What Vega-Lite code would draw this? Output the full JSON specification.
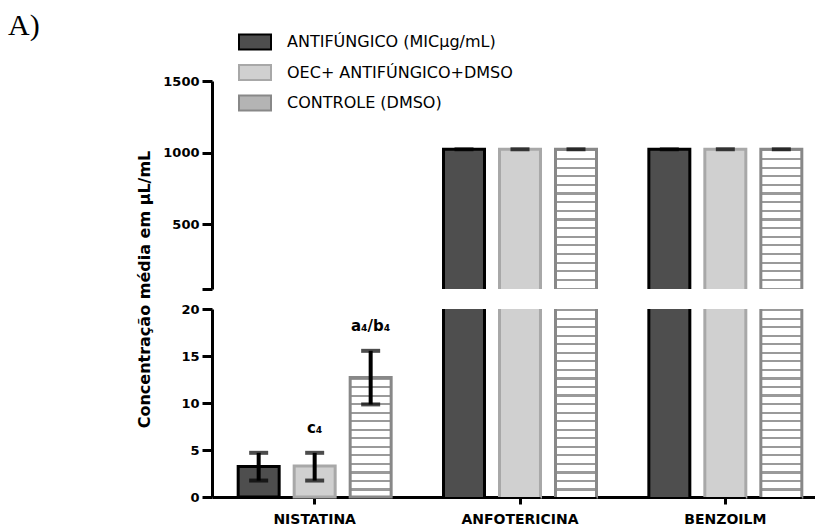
{
  "$schema": "https://vega.github.io/schema/vega-lite/v6.json",
  "padding": {"left": 8, "top": 11, "right": -13, "bottom": 0},
  "bounds": "flush",
  "spacing": 20,
  "title": {"text": "A)", "anchor": "start", "font": "Liberation Serif", "fontSize": 30, "fontWeight": "normal", "color": "#000000", "dx": -128, "dy": 20},
  "datasets": {
    "bars": [
      {"drug": "NISTATINA", "group": "ANTIFÚNGICO (MICµg/mL)", "mean": 3.25, "lo": 1.75, "hi": 4.7, "label": ""},
      {"drug": "NISTATINA", "group": "OEC+ ANTIFÚNGICO+DMSO", "mean": 3.3, "lo": 1.75, "hi": 4.7, "label": "c₄"},
      {"drug": "NISTATINA", "group": "CONTROLE (DMSO)", "mean": 12.7, "lo": 9.85, "hi": 15.55, "label": "a₄/b₄"},
      {"drug": "ANFOTERICINA", "group": "ANTIFÚNGICO (MICµg/mL)", "mean": 1024, "lo": 1024, "hi": 1024, "label": ""},
      {"drug": "ANFOTERICINA", "group": "OEC+ ANTIFÚNGICO+DMSO", "mean": 1024, "lo": 1024, "hi": 1024, "label": ""},
      {"drug": "ANFOTERICINA", "group": "CONTROLE (DMSO)", "mean": 1024, "lo": 1024, "hi": 1024, "label": ""},
      {"drug": "BENZOILM", "group": "ANTIFÚNGICO (MICµg/mL)", "mean": 1024, "lo": 1024, "hi": 1024, "label": ""},
      {"drug": "BENZOILM", "group": "OEC+ ANTIFÚNGICO+DMSO", "mean": 1024, "lo": 1024, "hi": 1024, "label": ""},
      {"drug": "BENZOILM", "group": "CONTROLE (DMSO)", "mean": 1024, "lo": 1024, "hi": 1024, "label": ""}
    ]
  },
  "vconcat": [
    {
      "width": 616,
      "height": 208,
      "data": {"name": "bars"},
      "encoding": {
        "x": {"field": "drug", "type": "nominal", "sort": ["NISTATINA", "ANFOTERICINA", "BENZOILM"], "scale": {"domain": ["NISTATINA", "ANFOTERICINA", "BENZOILM"], "paddingInner": 0, "paddingOuter": 0}, "axis": null},
        "xOffset": {"field": "group", "type": "nominal", "scale": {"domain": ["ANTIFÚNGICO (MICµg/mL)", "OEC+ ANTIFÚNGICO+DMSO", "CONTROLE (DMSO)"], "paddingInner": 0.268, "paddingOuter": 0.4675}}
      },
      "layer": [
        {
          "transform": [{"filter": "datum.mean > 50 && datum.group != 'CONTROLE (DMSO)'"}],
          "mark": {"type": "bar", "clip": true, "strokeWidth": 3},
          "encoding": {
            "y": {"field": "mean", "type": "quantitative", "scale": {"domain": [50, 1500], "nice": false, "zero": false}, "axis": {"values": [50, 500, 1000, 1500], "format": "d", "labelExpr": "datum.value == 50 ? '' : datum.label", "title": null, "tickSize": 10, "labelPadding": 3}},
            "y2": {"datum": 0},
            "fill": {"field": "group", "type": "nominal", "scale": {"domain": ["ANTIFÚNGICO (MICµg/mL)", "OEC+ ANTIFÚNGICO+DMSO", "CONTROLE (DMSO)"], "range": ["#4e4e4e", "#d0d0d0", "#b4b4b4"]}, "legend": {"title": null, "orient": "none", "legendX": 26, "legendY": -56, "symbolType": "M-1,-0.47H1V0.47H-1Z", "symbolSize": 1024, "symbolStrokeWidth": 2, "labelFont": "DejaVu Sans", "labelFontSize": 16, "labelColor": "#000000", "labelOffset": 15, "labelLimit": 0, "rowPadding": 1.5}},
            "stroke": {"field": "group", "type": "nominal", "scale": {"domain": ["ANTIFÚNGICO (MICµg/mL)", "OEC+ ANTIFÚNGICO+DMSO", "CONTROLE (DMSO)"], "range": ["#000000", "#a8a8a8", "#888888"]}, "legend": {"title": null, "orient": "none", "legendX": 26, "legendY": -56, "symbolType": "M-1,-0.47H1V0.47H-1Z", "symbolSize": 1024, "symbolStrokeWidth": 2, "labelFont": "DejaVu Sans", "labelFontSize": 16, "labelColor": "#000000", "labelOffset": 15, "labelLimit": 0, "rowPadding": 1.5}}
          }
        },
        {
          "transform": [{"filter": "datum.mean > 50 && datum.group == 'CONTROLE (DMSO)'"}],
          "mark": {"type": "bar", "clip": true, "strokeWidth": 3, "stroke": "#888888",
            "fill": {"gradient": "linear", "x1": 0, "y1": 0, "x2": 0, "y2": 1, "stops": [
              {"offset": 0, "color": "#9a9a9a"}, {"offset": 0.0147, "color": "#9a9a9a"}, {"offset": 0.0147, "color": "#ffffff"}, {"offset": 0.0588, "color": "#ffffff"},
              {"offset": 0.0588, "color": "#9a9a9a"}, {"offset": 0.0735, "color": "#9a9a9a"}, {"offset": 0.0735, "color": "#ffffff"}, {"offset": 0.1176, "color": "#ffffff"},
              {"offset": 0.1176, "color": "#9a9a9a"}, {"offset": 0.1324, "color": "#9a9a9a"}, {"offset": 0.1324, "color": "#ffffff"}, {"offset": 0.1765, "color": "#ffffff"},
              {"offset": 0.1765, "color": "#9a9a9a"}, {"offset": 0.1912, "color": "#9a9a9a"}, {"offset": 0.1912, "color": "#ffffff"}, {"offset": 0.2353, "color": "#ffffff"},
              {"offset": 0.2353, "color": "#9a9a9a"}, {"offset": 0.25, "color": "#9a9a9a"}, {"offset": 0.25, "color": "#ffffff"}, {"offset": 0.2941, "color": "#ffffff"},
              {"offset": 0.2941, "color": "#9a9a9a"}, {"offset": 0.3088, "color": "#9a9a9a"}, {"offset": 0.3088, "color": "#ffffff"}, {"offset": 0.3529, "color": "#ffffff"},
              {"offset": 0.3529, "color": "#9a9a9a"}, {"offset": 0.3676, "color": "#9a9a9a"}, {"offset": 0.3676, "color": "#ffffff"}, {"offset": 0.4118, "color": "#ffffff"},
              {"offset": 0.4118, "color": "#9a9a9a"}, {"offset": 0.4265, "color": "#9a9a9a"}, {"offset": 0.4265, "color": "#ffffff"}, {"offset": 0.4706, "color": "#ffffff"},
              {"offset": 0.4706, "color": "#9a9a9a"}, {"offset": 0.4853, "color": "#9a9a9a"}, {"offset": 0.4853, "color": "#ffffff"}, {"offset": 0.5294, "color": "#ffffff"},
              {"offset": 0.5294, "color": "#9a9a9a"}, {"offset": 0.5441, "color": "#9a9a9a"}, {"offset": 0.5441, "color": "#ffffff"}, {"offset": 0.5882, "color": "#ffffff"},
              {"offset": 0.5882, "color": "#9a9a9a"}, {"offset": 0.6029, "color": "#9a9a9a"}, {"offset": 0.6029, "color": "#ffffff"}, {"offset": 0.6471, "color": "#ffffff"},
              {"offset": 0.6471, "color": "#9a9a9a"}, {"offset": 0.6618, "color": "#9a9a9a"}, {"offset": 0.6618, "color": "#ffffff"}, {"offset": 0.7059, "color": "#ffffff"},
              {"offset": 0.7059, "color": "#9a9a9a"}, {"offset": 0.7206, "color": "#9a9a9a"}, {"offset": 0.7206, "color": "#ffffff"}, {"offset": 0.7647, "color": "#ffffff"},
              {"offset": 0.7647, "color": "#9a9a9a"}, {"offset": 0.7794, "color": "#9a9a9a"}, {"offset": 0.7794, "color": "#ffffff"}, {"offset": 0.8235, "color": "#ffffff"},
              {"offset": 0.8235, "color": "#9a9a9a"}, {"offset": 0.8382, "color": "#9a9a9a"}, {"offset": 0.8382, "color": "#ffffff"}, {"offset": 0.8824, "color": "#ffffff"},
              {"offset": 0.8824, "color": "#9a9a9a"}, {"offset": 0.8971, "color": "#9a9a9a"}, {"offset": 0.8971, "color": "#ffffff"}, {"offset": 0.9412, "color": "#ffffff"},
              {"offset": 0.9412, "color": "#9a9a9a"}, {"offset": 0.9559, "color": "#9a9a9a"}, {"offset": 0.9559, "color": "#ffffff"}, {"offset": 1, "color": "#ffffff"}
            ]}},
          "encoding": {
            "y": {"field": "mean", "type": "quantitative"},
            "y2": {"datum": 0}
          }
        },
        {
          "transform": [{"filter": "datum.mean > 50"}],
          "mark": {"type": "tick", "color": "#000000", "thickness": 4, "size": 19, "clip": true},
          "encoding": {"y": {"field": "hi", "type": "quantitative"}}
        }
      ]
    },
    {
      "width": 616,
      "height": 188,
      "data": {"name": "bars"},
      "encoding": {
        "x": {"field": "drug", "type": "nominal", "sort": ["NISTATINA", "ANFOTERICINA", "BENZOILM"], "scale": {"domain": ["NISTATINA", "ANFOTERICINA", "BENZOILM"], "paddingInner": 0, "paddingOuter": 0}, "axis": {"title": null, "labelAngle": 0, "tickSize": 7, "labelPadding": 8, "labelFont": "DejaVu Sans", "labelFontSize": 14}},
        "xOffset": {"field": "group", "type": "nominal", "scale": {"domain": ["ANTIFÚNGICO (MICµg/mL)", "OEC+ ANTIFÚNGICO+DMSO", "CONTROLE (DMSO)"], "paddingInner": 0.268, "paddingOuter": 0.4675}}
      },
      "layer": [
        {
          "transform": [{"filter": "datum.mean < 20 && datum.group != 'CONTROLE (DMSO)'"}],
          "mark": {"type": "bar", "strokeWidth": 3},
          "encoding": {
            "y": {"field": "mean", "type": "quantitative", "scale": {"domain": [0, 20], "nice": false, "clamp": true}, "axis": {"values": [0, 5, 10, 15, 20], "title": "Concentração média em µL/mL", "titleFont": "DejaVu Sans", "titleFontSize": 16, "titleFontWeight": "bold", "titleX": -63, "titleY": -20, "titleAngle": -90, "titleBaseline": "alphabetic", "titleAlign": "center", "tickSize": 10, "labelPadding": 3}},
            "y2": {"datum": 0},
            "fill": {"field": "group", "type": "nominal", "scale": {"domain": ["ANTIFÚNGICO (MICµg/mL)", "OEC+ ANTIFÚNGICO+DMSO", "CONTROLE (DMSO)"], "range": ["#4e4e4e", "#d0d0d0", "#b4b4b4"]}, "legend": {"title": null, "orient": "none", "legendX": 26, "legendY": -56, "symbolType": "M-1,-0.47H1V0.47H-1Z", "symbolSize": 1024, "symbolStrokeWidth": 2, "labelFont": "DejaVu Sans", "labelFontSize": 16, "labelColor": "#000000", "labelOffset": 15, "labelLimit": 0, "rowPadding": 1.5}},
            "stroke": {"field": "group", "type": "nominal", "scale": {"domain": ["ANTIFÚNGICO (MICµg/mL)", "OEC+ ANTIFÚNGICO+DMSO", "CONTROLE (DMSO)"], "range": ["#000000", "#a8a8a8", "#888888"]}, "legend": {"title": null, "orient": "none", "legendX": 26, "legendY": -56, "symbolType": "M-1,-0.47H1V0.47H-1Z", "symbolSize": 1024, "symbolStrokeWidth": 2, "labelFont": "DejaVu Sans", "labelFontSize": 16, "labelColor": "#000000", "labelOffset": 15, "labelLimit": 0, "rowPadding": 1.5}}
          }
        },
        {
          "transform": [{"filter": "datum.mean > 20 && datum.group != 'CONTROLE (DMSO)'"}],
          "mark": {"type": "bar", "strokeWidth": 3, "strokeDash": [0, 41, 188, 41, 188]},
          "encoding": {
            "y": {"field": "mean", "type": "quantitative"},
            "y2": {"datum": 0},
            "fill": {"field": "group", "type": "nominal", "scale": {"domain": ["ANTIFÚNGICO (MICµg/mL)", "OEC+ ANTIFÚNGICO+DMSO", "CONTROLE (DMSO)"], "range": ["#4e4e4e", "#d0d0d0", "#b4b4b4"]}, "legend": {"title": null, "orient": "none", "legendX": 26, "legendY": -56, "symbolType": "M-1,-0.47H1V0.47H-1Z", "symbolSize": 1024, "symbolStrokeWidth": 2, "labelFont": "DejaVu Sans", "labelFontSize": 16, "labelColor": "#000000", "labelOffset": 15, "labelLimit": 0, "rowPadding": 1.5}},
            "stroke": {"field": "group", "type": "nominal", "scale": {"domain": ["ANTIFÚNGICO (MICµg/mL)", "OEC+ ANTIFÚNGICO+DMSO", "CONTROLE (DMSO)"], "range": ["#000000", "#a8a8a8", "#888888"]}, "legend": {"title": null, "orient": "none", "legendX": 26, "legendY": -56, "symbolType": "M-1,-0.47H1V0.47H-1Z", "symbolSize": 1024, "symbolStrokeWidth": 2, "labelFont": "DejaVu Sans", "labelFontSize": 16, "labelColor": "#000000", "labelOffset": 15, "labelLimit": 0, "rowPadding": 1.5}}
          }
        },
        {
          "transform": [{"filter": "datum.mean < 20 && datum.group == 'CONTROLE (DMSO)'"}],
          "mark": {"type": "bar", "strokeWidth": 3, "stroke": "#888888",
            "fill": {"gradient": "linear", "x1": 0, "y1": 0, "x2": 0, "y2": 1, "stops": [
              {"offset": 0, "color": "#9a9a9a"}, {"offset": 0.0179, "color": "#9a9a9a"}, {"offset": 0.0179, "color": "#ffffff"}, {"offset": 0.0714, "color": "#ffffff"},
              {"offset": 0.0714, "color": "#9a9a9a"}, {"offset": 0.0893, "color": "#9a9a9a"}, {"offset": 0.0893, "color": "#ffffff"}, {"offset": 0.1429, "color": "#ffffff"},
              {"offset": 0.1429, "color": "#9a9a9a"}, {"offset": 0.1607, "color": "#9a9a9a"}, {"offset": 0.1607, "color": "#ffffff"}, {"offset": 0.2143, "color": "#ffffff"},
              {"offset": 0.2143, "color": "#9a9a9a"}, {"offset": 0.2321, "color": "#9a9a9a"}, {"offset": 0.2321, "color": "#ffffff"}, {"offset": 0.2857, "color": "#ffffff"},
              {"offset": 0.2857, "color": "#9a9a9a"}, {"offset": 0.3036, "color": "#9a9a9a"}, {"offset": 0.3036, "color": "#ffffff"}, {"offset": 0.3571, "color": "#ffffff"},
              {"offset": 0.3571, "color": "#9a9a9a"}, {"offset": 0.375, "color": "#9a9a9a"}, {"offset": 0.375, "color": "#ffffff"}, {"offset": 0.4286, "color": "#ffffff"},
              {"offset": 0.4286, "color": "#9a9a9a"}, {"offset": 0.4464, "color": "#9a9a9a"}, {"offset": 0.4464, "color": "#ffffff"}, {"offset": 0.5, "color": "#ffffff"},
              {"offset": 0.5, "color": "#9a9a9a"}, {"offset": 0.5179, "color": "#9a9a9a"}, {"offset": 0.5179, "color": "#ffffff"}, {"offset": 0.5714, "color": "#ffffff"},
              {"offset": 0.5714, "color": "#9a9a9a"}, {"offset": 0.5893, "color": "#9a9a9a"}, {"offset": 0.5893, "color": "#ffffff"}, {"offset": 0.6429, "color": "#ffffff"},
              {"offset": 0.6429, "color": "#9a9a9a"}, {"offset": 0.6607, "color": "#9a9a9a"}, {"offset": 0.6607, "color": "#ffffff"}, {"offset": 0.7143, "color": "#ffffff"},
              {"offset": 0.7143, "color": "#9a9a9a"}, {"offset": 0.7321, "color": "#9a9a9a"}, {"offset": 0.7321, "color": "#ffffff"}, {"offset": 0.7857, "color": "#ffffff"},
              {"offset": 0.7857, "color": "#9a9a9a"}, {"offset": 0.8036, "color": "#9a9a9a"}, {"offset": 0.8036, "color": "#ffffff"}, {"offset": 0.8571, "color": "#ffffff"},
              {"offset": 0.8571, "color": "#9a9a9a"}, {"offset": 0.875, "color": "#9a9a9a"}, {"offset": 0.875, "color": "#ffffff"}, {"offset": 0.9286, "color": "#ffffff"},
              {"offset": 0.9286, "color": "#9a9a9a"}, {"offset": 0.9464, "color": "#9a9a9a"}, {"offset": 0.9464, "color": "#ffffff"}, {"offset": 1, "color": "#ffffff"}
            ]}},
          "encoding": {
            "y": {"field": "mean", "type": "quantitative"},
            "y2": {"datum": 0}
          }
        },
        {
          "transform": [{"filter": "datum.mean > 20 && datum.group == 'CONTROLE (DMSO)'"}],
          "mark": {"type": "bar", "strokeWidth": 3, "stroke": "#888888", "strokeDash": [0, 41, 188, 41, 188],
            "fill": {"gradient": "linear", "x1": 0, "y1": 0, "x2": 0, "y2": 1, "stops": [
              {"offset": 0, "color": "#9a9a9a"}, {"offset": 0.0114, "color": "#9a9a9a"}, {"offset": 0.0114, "color": "#ffffff"}, {"offset": 0.0455, "color": "#ffffff"},
              {"offset": 0.0455, "color": "#9a9a9a"}, {"offset": 0.0568, "color": "#9a9a9a"}, {"offset": 0.0568, "color": "#ffffff"}, {"offset": 0.0909, "color": "#ffffff"},
              {"offset": 0.0909, "color": "#9a9a9a"}, {"offset": 0.1023, "color": "#9a9a9a"}, {"offset": 0.1023, "color": "#ffffff"}, {"offset": 0.1364, "color": "#ffffff"},
              {"offset": 0.1364, "color": "#9a9a9a"}, {"offset": 0.1477, "color": "#9a9a9a"}, {"offset": 0.1477, "color": "#ffffff"}, {"offset": 0.1818, "color": "#ffffff"},
              {"offset": 0.1818, "color": "#9a9a9a"}, {"offset": 0.1932, "color": "#9a9a9a"}, {"offset": 0.1932, "color": "#ffffff"}, {"offset": 0.2273, "color": "#ffffff"},
              {"offset": 0.2273, "color": "#9a9a9a"}, {"offset": 0.2386, "color": "#9a9a9a"}, {"offset": 0.2386, "color": "#ffffff"}, {"offset": 0.2727, "color": "#ffffff"},
              {"offset": 0.2727, "color": "#9a9a9a"}, {"offset": 0.2841, "color": "#9a9a9a"}, {"offset": 0.2841, "color": "#ffffff"}, {"offset": 0.3182, "color": "#ffffff"},
              {"offset": 0.3182, "color": "#9a9a9a"}, {"offset": 0.3295, "color": "#9a9a9a"}, {"offset": 0.3295, "color": "#ffffff"}, {"offset": 0.3636, "color": "#ffffff"},
              {"offset": 0.3636, "color": "#9a9a9a"}, {"offset": 0.375, "color": "#9a9a9a"}, {"offset": 0.375, "color": "#ffffff"}, {"offset": 0.4091, "color": "#ffffff"},
              {"offset": 0.4091, "color": "#9a9a9a"}, {"offset": 0.4205, "color": "#9a9a9a"}, {"offset": 0.4205, "color": "#ffffff"}, {"offset": 0.4545, "color": "#ffffff"},
              {"offset": 0.4545, "color": "#9a9a9a"}, {"offset": 0.4659, "color": "#9a9a9a"}, {"offset": 0.4659, "color": "#ffffff"}, {"offset": 0.5, "color": "#ffffff"},
              {"offset": 0.5, "color": "#9a9a9a"}, {"offset": 0.5114, "color": "#9a9a9a"}, {"offset": 0.5114, "color": "#ffffff"}, {"offset": 0.5455, "color": "#ffffff"},
              {"offset": 0.5455, "color": "#9a9a9a"}, {"offset": 0.5568, "color": "#9a9a9a"}, {"offset": 0.5568, "color": "#ffffff"}, {"offset": 0.5909, "color": "#ffffff"},
              {"offset": 0.5909, "color": "#9a9a9a"}, {"offset": 0.6023, "color": "#9a9a9a"}, {"offset": 0.6023, "color": "#ffffff"}, {"offset": 0.6364, "color": "#ffffff"},
              {"offset": 0.6364, "color": "#9a9a9a"}, {"offset": 0.6477, "color": "#9a9a9a"}, {"offset": 0.6477, "color": "#ffffff"}, {"offset": 0.6818, "color": "#ffffff"},
              {"offset": 0.6818, "color": "#9a9a9a"}, {"offset": 0.6932, "color": "#9a9a9a"}, {"offset": 0.6932, "color": "#ffffff"}, {"offset": 0.7273, "color": "#ffffff"},
              {"offset": 0.7273, "color": "#9a9a9a"}, {"offset": 0.7386, "color": "#9a9a9a"}, {"offset": 0.7386, "color": "#ffffff"}, {"offset": 0.7727, "color": "#ffffff"},
              {"offset": 0.7727, "color": "#9a9a9a"}, {"offset": 0.7841, "color": "#9a9a9a"}, {"offset": 0.7841, "color": "#ffffff"}, {"offset": 0.8182, "color": "#ffffff"},
              {"offset": 0.8182, "color": "#9a9a9a"}, {"offset": 0.8295, "color": "#9a9a9a"}, {"offset": 0.8295, "color": "#ffffff"}, {"offset": 0.8636, "color": "#ffffff"},
              {"offset": 0.8636, "color": "#9a9a9a"}, {"offset": 0.875, "color": "#9a9a9a"}, {"offset": 0.875, "color": "#ffffff"}, {"offset": 0.9091, "color": "#ffffff"},
              {"offset": 0.9091, "color": "#9a9a9a"}, {"offset": 0.9205, "color": "#9a9a9a"}, {"offset": 0.9205, "color": "#ffffff"}, {"offset": 0.9545, "color": "#ffffff"},
              {"offset": 0.9545, "color": "#9a9a9a"}, {"offset": 0.9659, "color": "#9a9a9a"}, {"offset": 0.9659, "color": "#ffffff"}, {"offset": 1, "color": "#ffffff"}
            ]}},
          "encoding": {
            "y": {"field": "mean", "type": "quantitative"},
            "y2": {"datum": 0}
          }
        },
        {
          "transform": [{"filter": "datum.mean < 20"}],
          "mark": {"type": "rule", "color": "#000000", "strokeWidth": 4},
          "encoding": {"y": {"field": "lo", "type": "quantitative"}, "y2": {"field": "hi"}}
        },
        {
          "transform": [{"filter": "datum.mean < 20"}],
          "mark": {"type": "tick", "color": "#000000", "thickness": 4, "size": 19},
          "encoding": {"y": {"field": "hi", "type": "quantitative"}}
        },
        {
          "transform": [{"filter": "datum.mean < 20"}],
          "mark": {"type": "tick", "color": "#000000", "thickness": 4, "size": 19},
          "encoding": {"y": {"field": "lo", "type": "quantitative"}}
        },
        {
          "transform": [{"filter": "datum.label != ''"}],
          "mark": {"type": "text", "baseline": "alphabetic", "dy": -20, "font": "DejaVu Sans", "fontSize": 15, "fontWeight": "bold", "color": "#000000"},
          "encoding": {"y": {"field": "hi", "type": "quantitative"}, "text": {"field": "label"}}
        }
      ]
    }
  ],
  "config": {
    "view": {"stroke": null},
    "font": "DejaVu Sans",
    "axis": {"domainColor": "#000000", "domainWidth": 3, "tickColor": "#000000", "tickWidth": 3, "labelColor": "#000000", "labelFont": "DejaVu Sans", "labelFontWeight": "bold", "labelFontSize": 13, "grid": false, "titleColor": "#000000"}
  }
}
